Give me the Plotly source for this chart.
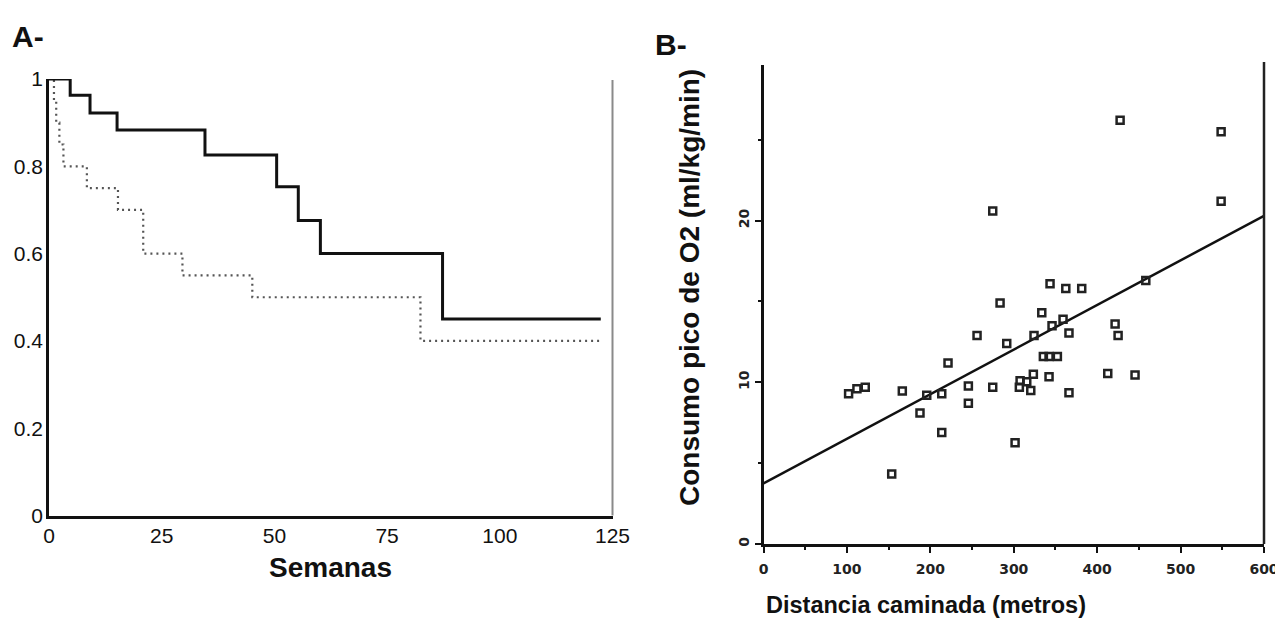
import plotly.graph_objects as go

# ---------------- Panel A: survival curves ----------------
solid_t = [0, 4.7, 9.1, 15.1, 34.6, 50.5, 55.3, 60.2, 87.3, 122.4]
solid_s = [1.0, 0.963, 0.922, 0.883, 0.826, 0.753, 0.676, 0.60, 0.45, 0.45]
dotted_t = [0, 1.1, 1.6, 2.3, 3.2, 8.4, 15.3, 20.9, 29.6, 45.1, 82.4, 122.7]
dotted_s = [1.0, 0.95, 0.90, 0.85, 0.80, 0.75, 0.70, 0.60, 0.55, 0.50, 0.40, 0.40]
a_xticks = [0, 25, 50, 75, 100, 125]
a_yticks = [0, 0.2, 0.4, 0.6, 0.8, 1]
a_yticklabels = ["0", "0.2", "0.4", "0.6", "0.8", "1"]

# ---------------- Panel B: scatter ----------------
dist_m = [102, 112, 122, 153.7, 166.4, 187.6, 195.7, 213.7, 213.7, 221.2,
          245.6, 245.6, 256, 274.8, 274.8, 283.6, 291.6, 301.6, 307.6, 306.7,
          315.6, 320.4, 323.5, 324.3, 333.6, 335.5, 342.3, 342.3, 343.5, 345.9,
          352.3, 359.1, 362.4, 366.2, 366.2, 381.5, 412.7, 421.5, 425.1, 427.5,
          445.4, 458.3, 548.6, 548.6]
vo2 = [9.3, 9.6, 9.7, 4.33, 9.46, 8.1, 9.2, 9.3, 6.9, 11.2,
       9.77, 8.7, 12.9, 9.7, 20.6, 14.9, 12.4, 6.26, 10.1, 9.7,
       10.04, 9.5, 10.5, 12.9, 14.3, 11.6, 11.6, 10.35, 16.1, 13.5,
       11.6, 13.9, 15.8, 13.05, 9.36, 15.8, 10.55, 13.6, 12.9, 26.2,
       10.45, 16.3, 25.5, 21.2]
fit_x = [0, 600]
fit_y = [3.75, 20.3]
b_xticks = [0, 100, 200, 300, 400, 500, 600]
b_yticks = [0, 10, 20]

# page body has an 8px margin: figure sized to reach the window's right edge
OFF = 8
W, H = 1283 - OFF, 629 - 2 * OFF
def px(x):
    return (x - OFF) / W
def py(y):
    return 1 - (y - OFF) / H

fig = go.Figure()

fig.add_trace(go.Scatter(x=dotted_t, y=dotted_s, mode="lines", line_shape="hv",
                         line=dict(color="#555555", width=2.2, dash="2px,4px"),
                         xaxis="x", yaxis="y", showlegend=False))
fig.add_trace(go.Scatter(x=solid_t, y=solid_s, mode="lines", line_shape="hv",
                         line=dict(color="#111111", width=3),
                         xaxis="x", yaxis="y", showlegend=False))

fig.add_trace(go.Scatter(x=fit_x, y=fit_y, mode="lines",
                         line=dict(color="#111111", width=2.5),
                         xaxis="x2", yaxis="y2", showlegend=False))
fig.add_trace(go.Scatter(x=dist_m, y=vo2, mode="markers",
                         marker=dict(symbol="square-open", size=7, color="#222222",
                                     line=dict(width=2.5, color="#222222")),
                         xaxis="x2", yaxis="y2", showlegend=False))

a_font = dict(family="Liberation Sans, Arial, sans-serif", size=21, color="#111111")
b_font = dict(family="DejaVu Sans, sans-serif", size=14, color="#222222", weight="bold")
title_family = "Liberation Sans, Arial, sans-serif"

fig.update_layout(
    width=W, height=H,
    margin=dict(l=0, r=0, t=0, b=0),
    paper_bgcolor="white", plot_bgcolor="white",
    xaxis=dict(domain=[px(49), px(612.5)], range=[0, 125], tickvals=a_xticks,
               automargin=False, ticklabeloverflow="allow",
               showgrid=False, zeroline=False, showline=True, linecolor="#111111",
               linewidth=2.5, ticks="", tickfont=a_font, ticklabelstandoff=0),
    yaxis=dict(domain=[py(515.5), py(79)], range=[0, 1], tickvals=a_yticks,
               automargin=False, ticklabeloverflow="allow",
               ticktext=a_yticklabels, showgrid=False, zeroline=False, showline=True,
               linecolor="#111111", linewidth=2.5, ticks="", tickfont=a_font,
               ticklabelstandoff=-1),
    xaxis2=dict(domain=[px(763.5), px(1264)], range=[0, 600], tickvals=b_xticks,
                automargin=False, ticklabeloverflow="allow",
                anchor="y2", showgrid=False, zeroline=False, showline=True,
                linecolor="#111111", linewidth=2.5, ticks="outside", ticklen=6,
                tickwidth=2, tickcolor="#111111", tickfont=b_font, ticklabelstandoff=4,
                minor=dict(dtick=50, tick0=0, ticks="outside", ticklen=3, tickwidth=2,
                           tickcolor="#111111", showgrid=False)),
    yaxis2=dict(domain=[py(544), py(65.4)], range=[0, 29.6], tickvals=b_yticks,
                automargin=False, ticklabeloverflow="allow",
                anchor="x2", showgrid=False, zeroline=False, showline=True,
                linecolor="#111111", linewidth=2.5, ticks="outside", ticklen=6,
                tickwidth=2, tickcolor="#111111", tickfont=b_font, tickangle=-90,
                minor=dict(dtick=5, tick0=0, ticks="outside", ticklen=3, tickwidth=2,
                           tickcolor="#111111", showgrid=False)),
    shapes=[
        dict(type="line", xref="paper", yref="paper", x0=px(612.5), x1=px(612.5),
             y0=py(515.5), y1=py(80), line=dict(color="#8a8a8a", width=2)),
        dict(type="line", xref="paper", yref="paper", x0=px(1264), x1=px(1264),
             y0=py(544), y1=py(62), line=dict(color="#222222", width=2.5)),
    ],
    annotations=[
        dict(text="<b>A-</b>", x=px(10), y=py(36), xref="paper", yref="paper",
             xanchor="left", yanchor="middle", showarrow=False,
             font=dict(family=title_family, size=30, color="#111111")),
        dict(text="<b>B-</b>", x=px(653), y=py(45), xref="paper", yref="paper",
             xanchor="left", yanchor="middle", showarrow=False,
             font=dict(family=title_family, size=30, color="#111111")),
        dict(text="<b>Semanas</b>", x=px(330), y=py(567), xref="paper", yref="paper",
             xanchor="center", yanchor="middle", showarrow=False,
             font=dict(family=title_family, size=28, color="#111111")),
        dict(text="<b>Distancia caminada (metros)</b>", x=px(926), y=py(605),
             xref="paper", yref="paper", xanchor="center", yanchor="middle",
             showarrow=False,
             font=dict(family=title_family, size=23.5, color="#111111")),
        dict(text="<b>Consumo pico de O2 (ml/kg/min)</b>", x=px(690), y=py(288),
             xref="paper", yref="paper", xanchor="center", yanchor="middle",
             textangle=-90, showarrow=False,
             font=dict(family=title_family, size=28, color="#111111")),
    ],
)

fig.write_html("out.html")
